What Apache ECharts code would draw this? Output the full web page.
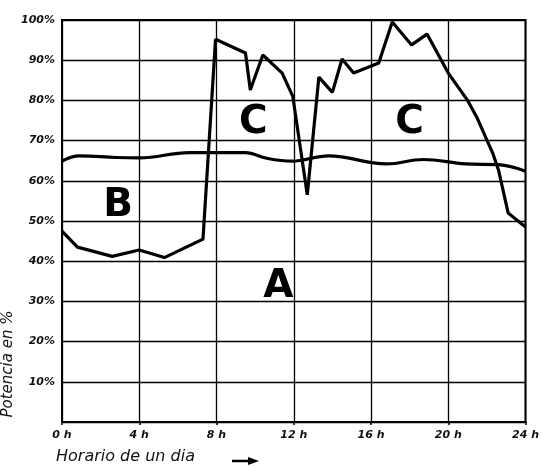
<!DOCTYPE html>
<html><head><meta charset="utf-8">
<script src="https://cdn.jsdelivr.net/npm/echarts@6/dist/echarts.min.js"></script>
<style>html,body{margin:0;padding:0;background:#fff}#c{width:542px;height:466px}</style>
</head><body><div id="c"></div>
<script>
// Curve C (load curve): hours, percent
const cHours  = [0, 0.8, 2.6, 4.0, 5.3, 7.3, 7.95, 9.5, 9.75, 10.4, 11.4, 11.95, 12.7, 13.3, 14.0, 14.5, 15.1, 16.4, 17.1, 18.1, 18.9, 20.0, 21.0, 21.5, 22.3, 22.6, 23.1, 24.0];
const cValues = [47.5, 43.5, 41.2, 42.8, 40.9, 45.5, 95.2, 91.8, 82.6, 91.3, 86.8, 81.0, 56.5, 85.8, 82.0, 90.3, 86.8, 89.3, 99.5, 93.8, 96.5, 86.8, 80.0, 75.6, 66.9, 62.7, 52.0, 48.5];
// Curve B (base ~66%)
const bHours  = [0, 0.9, 2.8, 4.0, 6.6, 9.5, 10.6, 11.9, 13.8, 16.8, 18.7, 20.9, 22.6, 24.0];
const bValues = [64.9, 66.2, 65.8, 65.7, 67.0, 67.0, 65.6, 64.9, 66.2, 64.2, 65.3, 64.2, 64.0, 62.4];
// Region labels
const regionNames = ['A', 'B', 'C', 'C'];
const regionHours = [11.2, 2.9, 9.9, 18.0];
const regionPct   = [33.6, 53.7, 74.4, 74.4];
// Axis ticks
const xTicks = [0, 4, 8, 12, 16, 20, 24];
const yTicks = [0, 10, 20, 30, 40, 50, 60, 70, 80, 90, 100];

const chart = echarts.init(document.getElementById('c'));
const lblFont = {fontFamily: 'DejaVu Sans', fontStyle: 'italic', fontWeight: 'bold', fontSize: 11, color: '#111'};
chart.setOption({
  backgroundColor: '#fff',
  animation: false,
  grid: {left: 62, right: 16, top: 20, bottom: 44, show: true, borderColor: '#000', borderWidth: 2},
  xAxis: {
    type: 'value', min: xTicks[0], max: xTicks[xTicks.length - 1], interval: 4,
    axisLine: {show: true, lineStyle: {color: '#000', width: 2}},
    axisTick: {show: true, length: 3, lineStyle: {color: '#000', width: 1.5}},
    axisLabel: Object.assign({margin: 8, formatter: v => v + ' h'}, lblFont),
    splitLine: {show: true, lineStyle: {color: '#000', width: 1.3}}
  },
  yAxis: {
    type: 'value', min: yTicks[0], max: yTicks[yTicks.length - 1], interval: 10,
    axisLine: {show: true, lineStyle: {color: '#000', width: 2}},
    axisTick: {show: false},
    axisLabel: Object.assign({margin: 7, formatter: v => v === 0 ? '' : v + '%'}, lblFont),
    splitLine: {show: true, lineStyle: {color: '#000', width: 1.3}}
  },
  series: [
    {type: 'line', data: cHours.map((h, i) => [h, cValues[i]]), symbol: 'none',
     lineStyle: {color: '#000', width: 3.2}, z: 5},
    {type: 'line', data: bHours.map((h, i) => [h, bValues[i]]), symbol: 'none', smooth: 0.4,
     lineStyle: {color: '#000', width: 3.2}, z: 5},
    {type: 'scatter', data: regionHours.map((h, i) => [h, regionPct[i], regionNames[i]]), symbolSize: 0,
     itemStyle: {opacity: 1, color: '#000'},
     label: {show: true, position: 'inside', formatter: p => p.data[2], opacity: 1,
       fontFamily: 'DejaVu Sans', fontWeight: 'bold', fontSize: 39, color: '#000'}, z: 6}
  ],
  graphic: [
    {type: 'text', left: 56, top: 449, style: {text: 'Horario de un dia', fontFamily: 'DejaVu Sans', fontStyle: 'italic', fontSize: 16, fill: '#111'}},
    {type: 'line', shape: {x1: 232, y1: 461, x2: 250, y2: 461}, style: {stroke: '#000', lineWidth: 2.5}},
    {type: 'polygon', shape: {points: [[248, 457], [259, 461], [248, 465]]}, style: {fill: '#000'}},
    {type: 'text', x: 8, y: 364, rotation: Math.PI / 2,
     style: {text: 'Potencia en %', fontFamily: 'DejaVu Sans', fontStyle: 'italic', fontSize: 15, fill: '#111', align: 'center', verticalAlign: 'middle'}}
  ]
});
</script></body></html>
